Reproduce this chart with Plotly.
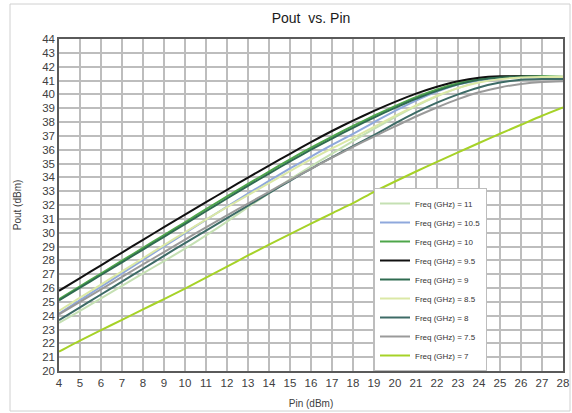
import plotly.graph_objects as go

# Input power sweep (dBm)
pin = list(range(4, 29))

# Output power (dBm) per frequency
pout_11 = [23.47, 24.35, 25.25, 26.15, 27.05, 27.95, 28.85, 29.8, 30.8, 31.85, 32.85, 33.85, 34.8, 35.72, 36.62, 37.5, 38.35, 39.15, 39.85, 40.45, 40.9, 41.15, 41.28, 41.3, 41.3]
pout_10_5 = [24.15, 25.12, 26.09, 27.06, 28.03, 29.0, 29.97, 30.93, 31.88, 32.82, 33.74, 34.64, 35.5, 36.35, 37.15, 37.98, 38.8, 39.55, 40.2, 40.7, 41.02, 41.18, 41.25, 41.25, 41.2]
pout_10 = [25.2, 26.12, 27.05, 27.98, 28.9, 29.83, 30.75, 31.7, 32.62, 33.52, 34.42, 35.3, 36.15, 36.95, 37.72, 38.45, 39.15, 39.8, 40.35, 40.8, 41.1, 41.25, 41.3, 41.3, 41.25]
pout_9_5 = [25.8, 26.72, 27.64, 28.56, 29.48, 30.4, 31.3, 32.2, 33.1, 33.98, 34.85, 35.7, 36.55, 37.35, 38.1, 38.8, 39.45, 40.05, 40.55, 40.95, 41.2, 41.3, 41.3, 41.25, 41.2]
pout_9 = [25.1, 26.02, 26.94, 27.86, 28.78, 29.7, 30.62, 31.55, 32.47, 33.38, 34.27, 35.15, 36.0, 36.8, 37.58, 38.32, 39.02, 39.68, 40.25, 40.72, 41.05, 41.22, 41.28, 41.27, 41.22]
pout_8_5 = [24.35, 25.3, 26.25, 27.2, 28.15, 29.1, 30.03, 30.95, 31.85, 32.72, 33.58, 34.45, 35.3, 36.1, 36.85, 37.65, 38.45, 39.2, 39.9, 40.45, 40.85, 41.1, 41.22, 41.25, 41.25]
pout_8 = [23.67, 24.6, 25.53, 26.46, 27.39, 28.32, 29.25, 30.15, 31.05, 31.95, 32.85, 33.75, 34.62, 35.45, 36.25, 37.05, 37.9, 38.7, 39.4, 40.0, 40.5, 40.85, 41.05, 41.1, 41.1]
pout_7_5 = [24.1, 25.0, 25.9, 26.8, 27.7, 28.6, 29.5, 30.38, 31.25, 32.1, 32.95, 33.8, 34.62, 35.42, 36.2, 36.95, 37.68, 38.4, 39.05, 39.65, 40.15, 40.5, 40.75, 40.9, 40.95]
pout_7 = [21.4, 22.2, 22.95, 23.7, 24.45, 25.2, 25.95, 26.75, 27.55, 28.35, 29.13, 29.9, 30.65, 31.4, 32.13, 32.95, 33.7, 34.42, 35.12, 35.8, 36.48, 37.15, 37.8, 38.45, 39.05]

freq_labels = ["11", "10.5", "10", "9.5", "9", "8.5", "8", "7.5", "7"]
series = [pout_11, pout_10_5, pout_10, pout_9_5, pout_9, pout_8_5, pout_8, pout_7_5, pout_7]
colors = ["#c5e0b3", "#8fa8dc", "#4ea64a", "#111111", "#2f6b50",
          "#dbe8a6", "#3d6b66", "#9a9a9a", "#a6d228"]

FONT = "Liberation Sans, Arial, sans-serif"

fig = go.Figure()
for label, ys, col in zip(freq_labels, series, colors):
    fig.add_trace(go.Scatter(
        x=pin, y=ys, mode="lines",
        name=f"Freq (GHz) = {label}",
        line=dict(color=col, width=2, shape="spline", smoothing=0.6),
    ))

axis_common = dict(
    showgrid=True, gridcolor="#bdbdbd", gridwidth=1.6,
    showline=True, linecolor="#5a5a5a", linewidth=1.5, mirror=True,
    ticks="", zeroline=False, dtick=1, automargin=False,
    tickfont=dict(family=FONT, size=11.5, color="#404040"),
)

fig.update_layout(
    width=572, height=413,
    margin=dict(l=59, r=9, t=39, b=42),
    paper_bgcolor="white", plot_bgcolor="white",
    title=dict(text="Pout\u00a0 vs. Pin", x=0.5, xref="paper", y=0.957, yanchor="middle",
               font=dict(family=FONT, size=14, color="#1a1a1a")),
    xaxis=dict(range=[4, 28], title=dict(text="Pin (dBm)", standoff=12,
               font=dict(family=FONT, size=10, color="#404040")), **axis_common),
    yaxis=dict(range=[20, 44], title=dict(text="Pout (dBm)", standoff=19,
               font=dict(family=FONT, size=10, color="#404040")), **axis_common),
    legend=dict(x=0.625, y=0.0, xanchor="left", yanchor="bottom",
                bgcolor="white", bordercolor="#bdbdbd", borderwidth=1,
                font=dict(family=FONT, size=8, color="#333333"),
                tracegroupgap=0),
    shapes=[dict(type="rect", xref="paper", yref="paper",
                 x0=(10 - 59) / 504, x1=(570 - 59) / 504,
                 y0=(371 - 411) / 332, y1=(371 - 4) / 332,
                 line=dict(color="#d0d0d0", width=1), layer="below")],
)

fig.write_html("out.html")
